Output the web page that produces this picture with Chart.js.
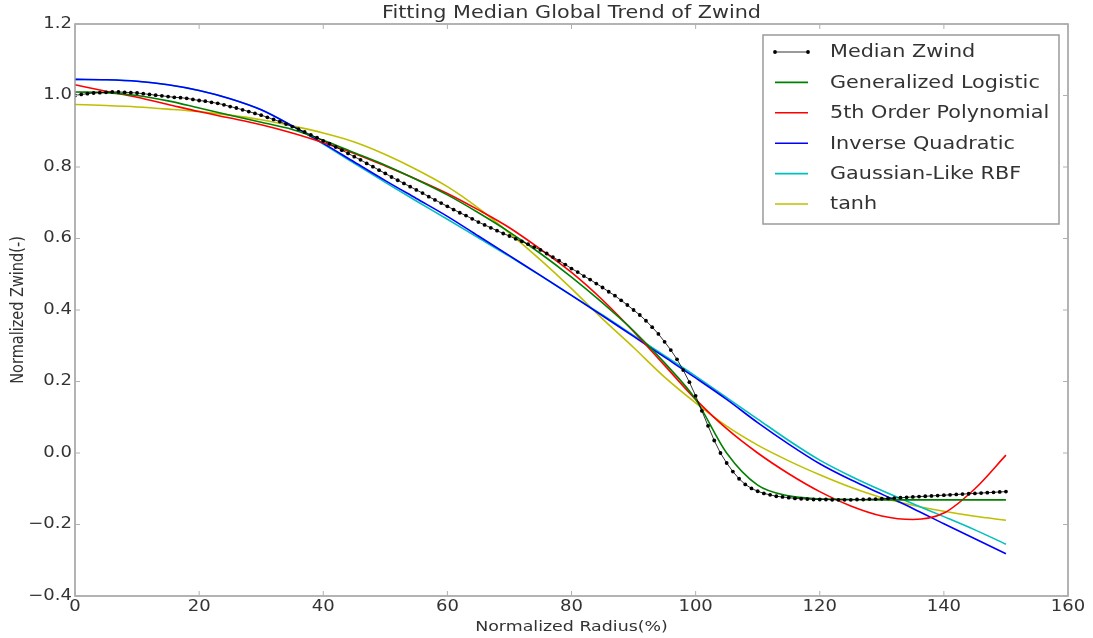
<!DOCTYPE html>
<html>
<head>
<meta charset="utf-8">
<title>Fitting Median Global Trend of Zwind</title>
<script src="https://cdn.jsdelivr.net/npm/chart.js@4/dist/chart.umd.min.js"></script>
<style>
    body { margin: 0; background: #fff; }
    canvas { display: block; }
</style>
</head>
<body>
<canvas id="zwind-chart" width="1093" height="638"></canvas>
<script>
// -------------- Data --------------
// median profile, one value per percent of radius (0..150)
const medianZwind = [
    1.000, 1.003, 1.005, 1.007, 1.008, 1.009, 1.010, 1.010, 1.009, 1.008,
    1.007, 1.005, 1.003, 1.001, 0.999, 0.997, 0.995, 0.994, 0.992, 0.989,
    0.986, 0.984, 0.981, 0.978, 0.974, 0.969, 0.965, 0.960, 0.955, 0.950,
    0.945, 0.939, 0.933, 0.927, 0.920, 0.913, 0.906, 0.898, 0.890, 0.882,
    0.873, 0.865, 0.856, 0.847, 0.838, 0.829, 0.820, 0.810, 0.801, 0.791,
    0.782, 0.772, 0.763, 0.754, 0.745, 0.736, 0.727, 0.717, 0.708, 0.699,
    0.690, 0.681, 0.672, 0.664, 0.655, 0.646, 0.638, 0.630, 0.622, 0.614,
    0.607, 0.599, 0.592, 0.584, 0.576, 0.568, 0.558, 0.548, 0.538, 0.527,
    0.516, 0.506, 0.495, 0.485, 0.474, 0.463, 0.451, 0.440, 0.427, 0.414,
    0.400, 0.386, 0.370, 0.352, 0.333, 0.311, 0.288, 0.262, 0.232, 0.198,
    0.160, 0.118, 0.076, 0.035, 0.000, -0.028, -0.052, -0.072, -0.088, -0.099,
    -0.107, -0.113, -0.117, -0.121, -0.123, -0.125, -0.127, -0.128, -0.129, -0.130,
    -0.130, -0.130, -0.131, -0.131, -0.131, -0.131, -0.130, -0.130, -0.129, -0.129,
    -0.128, -0.127, -0.126, -0.125, -0.124, -0.123, -0.122, -0.121, -0.120, -0.119,
    -0.118, -0.117, -0.116, -0.115, -0.114, -0.113, -0.112, -0.111, -0.110, -0.109,
    -0.108
];

// fitted curves, sampled every 5% of radius
const fitRadius = [0, 5, 10, 15, 20, 25, 30, 35, 40, 45, 50, 55, 60, 65, 70, 75,
    80, 85, 90, 95, 100, 105, 110, 115, 120, 125, 130, 135, 140, 145, 150];
const genLogistic = [1.010, 1.008, 1.000, 0.985, 0.965, 0.945, 0.925, 0.905, 0.875, 0.840,
    0.805, 0.765, 0.722, 0.672, 0.618, 0.558, 0.492, 0.420, 0.342, 0.252,
    0.150, 0.000, -0.090, -0.120, -0.128, -0.130, -0.131, -0.131, -0.131, -0.131, -0.131];
const poly5 = [1.030, 1.012, 0.995, 0.975, 0.955, 0.937, 0.918, 0.895, 0.868, 0.838,
    0.803, 0.766, 0.726, 0.680, 0.630, 0.570, 0.505, 0.428, 0.340, 0.245,
    0.150, 0.068, 0.000, -0.058, -0.108, -0.148, -0.176, -0.186, -0.168, -0.100, -0.006];
const invQuadratic = [1.045, 1.044, 1.040, 1.030, 1.014, 0.991, 0.960, 0.915, 0.866, 0.814,
    0.762, 0.712, 0.662, 0.607, 0.552, 0.497, 0.441, 0.384, 0.326, 0.268,
    0.210, 0.150, 0.085, 0.025, -0.030, -0.075, -0.115, -0.155, -0.198, -0.240, -0.282];
const gaussRbf = [1.045, 1.044, 1.040, 1.030, 1.014, 0.991, 0.960, 0.915, 0.864, 0.810,
    0.757, 0.705, 0.654, 0.602, 0.550, 0.496, 0.441, 0.386, 0.329, 0.272,
    0.215, 0.155, 0.095, 0.035, -0.020, -0.065, -0.105, -0.142, -0.178, -0.215, -0.255];
const tanhFit = [0.975, 0.972, 0.968, 0.962, 0.955, 0.945, 0.932, 0.915, 0.895, 0.870,
    0.835, 0.793, 0.745, 0.685, 0.615, 0.540, 0.460, 0.375, 0.295, 0.212,
    0.140, 0.075, 0.022, -0.022, -0.061, -0.096, -0.125, -0.146, -0.163, -0.177, -0.188];

const xTicks = [0, 20, 40, 60, 80, 100, 120, 140, 160];
const yTicks = [-0.4, -0.2, 0.0, 0.2, 0.4, 0.6, 0.8, 1.0, 1.2];

const font = 'DejaVu Sans, Liberation Sans, sans-serif';
const textColor = '#333';
// the text in this figure runs a little wide
const stretch = 1.2;

// pair up x/y arrays for the linear x axis
const toPoints = (xs, ys) => ys.map((y, i) => ({ x: xs[i], y: y }));
const medianRadius = medianZwind.map((v, i) => i);

const fitLine = (label, values, color) => ({
    label: label,
    data: toPoints(fitRadius, values),
    borderColor: color,
    backgroundColor: color,
    borderWidth: 1.6,
    pointRadius: 0,
    cubicInterpolationMode: 'monotone'
});

const zwindData = {
    datasets: [
        {
            label: 'Median Zwind',
            data: toPoints(medianRadius, medianZwind),
            borderColor: '#000',
            backgroundColor: '#000',
            borderWidth: 0.8,
            pointRadius: 1.9,
            pointBorderWidth: 0,
            tension: 0
        },
        fitLine('Generalized Logistic', genLogistic, '#008000'),
        fitLine('5th Order Polynomial', poly5, '#ff0000'),
        fitLine('Inverse Quadratic', invQuadratic, '#0000ff'),
        fitLine('Gaussian-Like RBF', gaussRbf, '#00bfbf'),
        fitLine('tanh', tanhFit, '#bfbf00')
    ]
};

// write text widened horizontally around (x, y)
function wideText(ctx, text, x, y, size, align, rotate) {
    ctx.save();
    ctx.translate(x, y);
    if (rotate) {
        ctx.rotate(-Math.PI / 2);
        ctx.scale(1, stretch);
    } else {
        ctx.scale(stretch, 1);
    }
    ctx.font = size + 'px ' + font;
    ctx.fillStyle = textColor;
    ctx.textAlign = align;
    ctx.textBaseline = 'middle';
    ctx.fillText(text, 0, 0);
    ctx.restore();
}

// -------------- Frame, ticks, titles and legend --------------
const framePlugin = {
    id: 'frame',
    afterDraw(chart) {
        const ctx = chart.ctx;
        const a = chart.chartArea;
        const xs = chart.scales.x;
        const ys = chart.scales.y;
        ctx.save();

        // axes box
        ctx.strokeStyle = '#9a9a9a';
        ctx.lineWidth = 1.5;
        ctx.strokeRect(a.left, a.top, a.right - a.left, a.bottom - a.top);

        // tick marks pointing into the plot on all four sides
        ctx.lineWidth = 1;
        ctx.strokeStyle = '#b0b0b0';
        ctx.beginPath();
        xTicks.forEach(t => {
            const px = xs.getPixelForValue(t);
            ctx.moveTo(px, a.bottom); ctx.lineTo(px, a.bottom - 5);
            ctx.moveTo(px, a.top); ctx.lineTo(px, a.top + 5);
        });
        yTicks.forEach(t => {
            const py = ys.getPixelForValue(t);
            ctx.moveTo(a.left, py); ctx.lineTo(a.left + 5, py);
            ctx.moveTo(a.right, py); ctx.lineTo(a.right - 5, py);
        });
        ctx.stroke();

        // tick labels
        xTicks.forEach(t => {
            wideText(ctx, String(t), xs.getPixelForValue(t), a.bottom + 11, 15, 'center');
        });
        yTicks.forEach(t => {
            const label = t.toFixed(1).replace('-', '\u2212');
            wideText(ctx, label, a.left - 3, ys.getPixelForValue(t), 15, 'right');
        });

        // chart title and axis titles
        const midX = (a.left + a.right) / 2;
        wideText(ctx, 'Fitting Median Global Trend of Zwind', midX, 14, 17.3, 'center');
        wideText(ctx, 'Normalized Radius(%)', midX, 627, 14.5, 'center');
        wideText(ctx, 'Normalized Zwind(-)', 18, (a.top + a.bottom) / 2, 14.5, 'center', true);

        // legend box in the upper right corner
        const box = { left: 763, top: 35, right: 1059, bottom: 224 };
        ctx.fillStyle = '#fff';
        ctx.fillRect(box.left, box.top, box.right - box.left, box.bottom - box.top);
        ctx.strokeStyle = '#9a9a9a';
        ctx.lineWidth = 1.5;
        ctx.strokeRect(box.left, box.top, box.right - box.left, box.bottom - box.top);

        chart.data.datasets.forEach((ds, i) => {
            const y = 52 + i * 30.4;
            ctx.strokeStyle = ds.borderColor;
            ctx.lineWidth = i === 0 ? 0.8 : 1.6;
            ctx.beginPath();
            ctx.moveTo(775, y);
            ctx.lineTo(808, y);
            ctx.stroke();
            if (i === 0) {
                ctx.fillStyle = '#000';
                [775, 808].forEach(px => {
                    ctx.beginPath();
                    ctx.arc(px, y, 1.9, 0, Math.PI * 2);
                    ctx.fill();
                });
            }
            wideText(ctx, ds.label, 830, y + 1, 17.3, 'left');
        });
        ctx.restore();
    }
};

const zwindOptions = {
    responsive: false,
    animation: false,
    layout: {
        padding: { left: 0, right: 25, top: 24, bottom: 0 }
    },
    plugins: {
        legend: { display: false },
        tooltip: { enabled: false }
    },
    scales: {
        x: {
            type: 'linear',
            min: 0,
            max: 160,
            afterFit: scale => { scale.height = 42; },
            grid: { display: false, drawTicks: false },
            border: { display: false },
            ticks: { display: false }
        },
        y: {
            type: 'linear',
            min: -0.4,
            max: 1.2,
            afterFit: scale => { scale.width = 75; },
            grid: { display: false, drawTicks: false },
            border: { display: false },
            ticks: { display: false }
        }
    }
};

// Creating the chart
const zwindChart = new Chart(document.getElementById('zwind-chart'), {
    type: 'line',
    data: zwindData,
    options: zwindOptions,
    plugins: [framePlugin]
});
</script>
</body>
</html>
